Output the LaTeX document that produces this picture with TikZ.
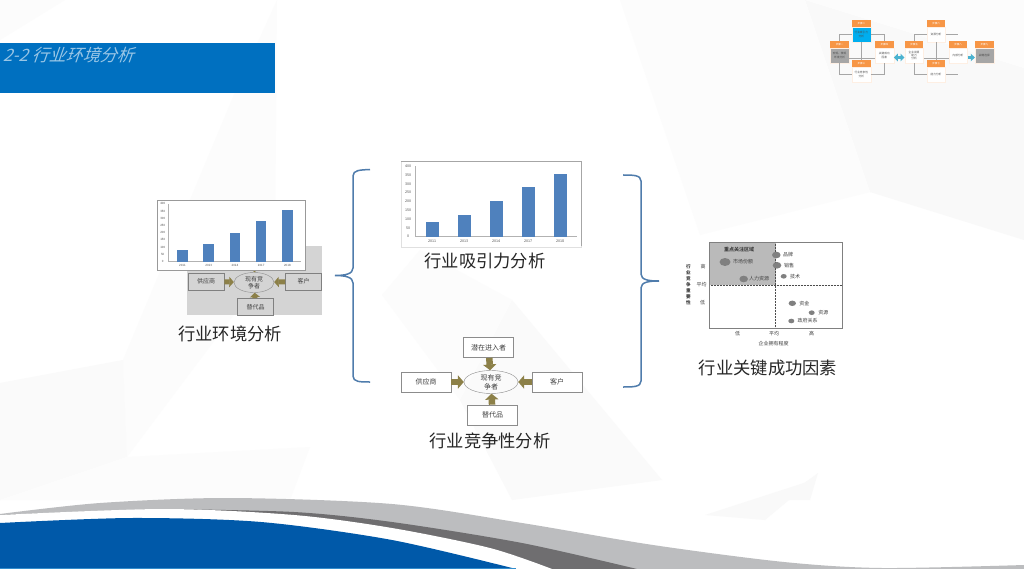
\documentclass[tikz,border=0pt]{standalone}
\usepackage{fontspec}
\setmainfont{Noto Sans CJK SC}
\usepackage{xcolor}
\usetikzlibrary{arrows.meta}
\usetikzlibrary{shapes.geometric}

\definecolor{titleblue}{HTML}{0070C0}
\definecolor{barblue}{HTML}{4F81BD}
\definecolor{bracecol}{HTML}{4F7CAC}
\definecolor{forceolive}{HTML}{8C8048}
\definecolor{waveblue}{HTML}{0059A9}
\definecolor{wavegrey}{HTML}{BCBDBF}
\definecolor{wavedark}{HTML}{6F6E70}
\definecolor{steporange}{HTML}{F79646}
\definecolor{stepcyan}{HTML}{00AEEF}
\definecolor{stepteal}{HTML}{4BB3D0}

\tikzset{
  facet/.style={fill=#1},
  caption/.style={font=\fontsize{17.3}{20}\selectfont,text=black!85,inner sep=0pt},
  bigbox/.style={draw=black!45,fill=white,line width=0.7pt,font=\fontsize{7}{8}\selectfont,text=black!75,inner sep=0pt,minimum width=50pt,minimum height=20pt},
  smallbox/.style={draw=black!50,fill=black!17,line width=0.7pt,font=\fontsize{6}{7}\selectfont,text=black!75,inner sep=0pt,minimum width=36pt,minimum height=17pt},
  rival/.style={ellipse,draw=black!45,align=center,inner sep=0pt,text=black!75},
  forcearrow/.style={draw=forceolive,line width=#1,-{Triangle[width=2*#1,length=0.9*#1]}},
  bracepath/.style={draw=bracecol,line width=1.5pt},
  keydot/.style={fill=black!50},
  keytext/.style={font=\fontsize{5}{6}\selectfont,text=black!75,inner sep=0pt},
  stephead/.style={fill=steporange,text=white,font=\fontsize{2.5}{3}\selectfont,inner sep=0pt,minimum width=18.7pt,minimum height=6.4pt},
  stepbody/.style={draw=steporange!15,line width=0.3pt,align=center,font=\fontsize{2.7}{3.4}\selectfont,text=black!70,inner sep=0pt,text width=17pt,minimum width=18.7pt,minimum height=15.6pt},
  stepline/.style={draw=black!35,line width=0.6pt},
  stepflow/.style={draw=stepteal,line width=3pt},
}

% one step of the small road map: head at the top, body below
\newcommand{\stepbox}[6]{
  \node[stephead] (#1h) at (#2,#3+3.2) {#5};
  \node[stepbody,fill=#4] (#1b) at (#2,#3+14.2) {#6};
}

% column chart, drawn in the units of the large one
\newcommand{\colchart}[5]{
  \begin{scope}[shift={(#2,#3)},scale=#4]
    \pgfmathsetmacro{\chartfont}{3.6*#4}
    \node[draw=#5,fill=white,line width=0.8pt,inner sep=0pt,minimum width=180*#4,minimum height=85*#4,anchor=north west] (#1) at (0,0) {};
    \foreach \v in {0,50,...,400}
      \node[font=\fontsize{\chartfont}{4}\selectfont,text=black!70,inner sep=0pt] (#1t\v) at (7,75-\v*0.1755) {\v};
    \draw[black!30,line width=0.4pt] (14,5) -- (14,75) -- (176,75);
    \foreach \x/\h/\yr in {31/80/2011,63/120/2013,95/200/2014,127/280/2017,159/355/2018} {
      \fill[barblue] (\x-6.5,75) rectangle (\x+6.5,75-\h*0.1755);
      \node[font=\fontsize{\chartfont}{4}\selectfont,text=black!70,inner sep=0pt] (#1y\yr) at (\x,80) {\yr};
    }
  \end{scope}
}

\begin{document}
\begin{tikzpicture}[x=1pt,y=-1pt]
  \useasboundingbox (0,0) rectangle (1024,569);
  \fill[white] (0,0) rectangle (1024,569);

  % faint facets of the slide background
  \fill[facet=black!2.5] (805,0) -- (1024,68) -- (1024,240) -- (870,192) -- cycle;
  \fill[facet=black!1] (805,0) -- (1024,0) -- (1024,68) -- cycle;
  \fill[facet=black!1] (620,0) -- (805,0) -- (870,192) -- (700,235) -- cycle;
  \fill[facet=black!1] (0,0) -- (65,0) -- (0,40) -- cycle;
  \fill[facet=black!1] (277,0) -- (233,97) -- (123,360) -- (127,457) -- (275,260) -- cycle;
  \fill[facet=black!2] (0,383) -- (123,360) -- (127,457) -- (0,500) -- cycle;
  \fill[facet=black!1] (127,457) -- (310,447) -- (290,500) -- (0,500) -- cycle;
  \fill[facet=black!2] (512,300) -- (662,480) -- (512,500) -- (460,400) -- cycle;
  \fill[facet=black!2.5] (781,500) -- (818,473) -- (810,500) -- cycle;
  \fill[facet=black!2.5] (705,515) -- (813,480) -- (765,520) -- cycle;
  \fill[facet=black!1] (382,295) -- (420,250) -- (512,300) -- (460,400) -- cycle;

  % waves at the foot of the slide
  \fill[wavegrey] plot[smooth] coordinates {(0,514) (100,503) (229,498) (392,504) (522,523) (653,545) (784,562) (882,568) (1024,565)} -- (1024,569) -- (0,569) -- cycle;
  \fill[wavedark] plot[smooth] coordinates {(163,509) (294,512) (392,522) (522,543) (637,569)} -- (0,569) -- (0,515) -- cycle;
  \fill[white] plot[smooth] coordinates {(0,515) (163,509) (294,515) (392,528) (490,548) (552,569)} -- (0,569) -- cycle;
  \fill[waveblue] plot[smooth] coordinates {(0,523) (131,518) (261,522) (392,540) (516,569)} -- (0,569) -- cycle;
  \fill[titleblue!80] (0,568) rectangle (516,569);

  % title
  \node[fill=titleblue,minimum width=275pt,minimum height=50pt,inner sep=0pt,anchor=north west] (titlebar) at (0,43) {};
  \node[font=\fontsize{17}{20}\selectfont,text=white!60!titleblue,xslant=0.35,anchor=west,inner sep=0pt] (titletext) at (5,55) {2-2 行业环境分析};

  % environment, small copy
  \fill[black!17] (187,246) rectangle (322,315);
  \node[smallbox] (sentrant) at (255,258) {};
  \node[smallbox] (ssupplier) at (206,281.5) {供应商};
  \node[smallbox] (scustomer) at (303.5,281.5) {客户};
  \node[smallbox] (ssubstitute) at (255.5,307) {替代品};
  \node[rival,minimum width=40pt,minimum height=20pt,font=\fontsize{6}{7}\selectfont] (srival) at (254,282.5) {现有竞\\争者};
  \draw[forcearrow=5pt] (ssupplier) -- (srival);
  \draw[forcearrow=5pt] (scustomer) -- (srival);
  \draw[forcearrow=5pt] (ssubstitute) -- (srival);
  \draw[forcearrow=5pt] (sentrant) -- (srival);
  \colchart{smallchart}{157}{200}{0.82}{black!40}
  \node[caption] (envtext) at (230,334) {行业环境分析};

  % brace on the left
  \draw[bracepath] (370,169.5) .. controls (360,170) and (353,170) .. (353,176) -- (353,268) .. controls (353,274) and (345,275.5) .. (335,275.5) .. controls (345,275.5) and (353,277) .. (353,283) -- (353,376) .. controls (353,382) and (360,382) .. (370,382);

  % attractiveness
  \colchart{bigchart}{401}{161.5}{1}{black!12}
  \draw[black!35,line width=0.7pt] (401,161.5) -- (581.5,161.5) -- (581.5,246);
  \node[caption] (attrtext) at (485,261) {行业吸引力分析};

  % competition
  \node[bigbox] (entrant) at (488.5,347.5) {潜在进入者};
  \node[bigbox] (supplier) at (426,382) {供应商};
  \node[bigbox] (customer) at (557,382) {客户};
  \node[bigbox] (substitute) at (492.5,415) {替代品};
  \node[rival,minimum width=54pt,minimum height=23pt,font=\fontsize{7}{9}\selectfont] (rivalry) at (491,382) {现有竞\\争者};
  \draw[forcearrow=6.5pt] (supplier) -- (rivalry);
  \draw[forcearrow=6.5pt] (customer) -- (rivalry);
  \draw[forcearrow=6.5pt] (entrant) -- (rivalry);
  \draw[forcearrow=6.5pt] (substitute) -- (rivalry);
  \node[caption] (comptext) at (490,441) {行业竞争性分析};

  % brace on the right
  \draw[bracepath] (623,175) .. controls (633,175) and (641,175) .. (641,181) -- (641,274) .. controls (641,280) and (649,281) .. (659,281) .. controls (649,281) and (641,282) .. (641,288) -- (641,381) .. controls (641,387) and (633,387) .. (623,387);

  % key factors
  \fill[white] (684,241) rectangle (847,350);
  \fill[black!27] (709,242) rectangle (775.7,285.3);
  \draw[black!70,densely dotted,line width=0.5pt] (709,285.3) -- (842,285.3);
  \draw[black!70,densely dotted,line width=0.5pt] (775.7,242) -- (775.7,328);
  \draw[black!50,line width=0.9pt] (709,242) rectangle (842,328);
  \node[keytext,font=\bfseries\fontsize{5}{6}\selectfont] (keyzone) at (739,249.7) {重点关注区域};
  \foreach \cx/\cy/\rx/\ry/\tx/\lbl [count=\k] in {725/262/5.5/4/743/市场份额,776.3/255/4.3/3.3/788/品牌,777/265.3/4.3/3.3/789/销售,783.7/276.3/3/2.3/795/技术,743.7/279/4.3/3.3/759/人力资源,792.3/303.3/3.7/2.7/804.3/资金,811.7/312.7/3/2.3/823.3/资源,791.3/321/3/2.3/807.7/政府关系} {
    \fill[keydot] (\cx,\cy) ellipse ({\rx} and {\ry});
    \node[keytext] (key\k) at (\tx,\cy) {\lbl};
  }
  \foreach \tx/\ty/\lbl [count=\k] in {737.7/333.7/低,774/333.7/平均,811.7/333.7/高,773.7/343.3/企业拥有程度,703/266.7/高,701.7/285/平均,702.7/303/低}
    \node[keytext] (axis\k) at (\tx,\ty) {\lbl};
  \node[keytext,align=center,font=\bfseries\fontsize{4.6}{6}\selectfont] (axisname) at (688.3,285) {行\\业\\竞\\争\\重\\要\\性};
  \node[caption] (keytext) at (768,368) {行业关键成功因素};

  % road map in the corner
  \stepbox{stepa}{839.6}{41.3}{black!35}{步骤一}{宏观、微观\\环境分析}
  \stepbox{stepb}{861.3}{20.3}{stepcyan}{步骤二}{行业吸引力\\分析}
  \stepbox{stepc}{884.3}{41.3}{white}{步骤四}{关键成功\\因素}
  \stepbox{stepd}{861.3}{60.3}{white}{步骤三}{行业竞争性\\分析}
  \stepbox{stepe}{914}{41.3}{white}{步骤五}{企业资源\\能力\\分析}
  \stepbox{stepf}{936}{20.3}{white}{步骤六}{资源分析}
  \stepbox{stepg}{936}{60.3}{white}{步骤七}{能力分析}
  \stepbox{steph}{958}{41.3}{white}{步骤八}{内部分析}
  \stepbox{stepi}{984.3}{41.3}{black!35}{步骤九}{战略选择}
  \coordinate (stepfend) at (958,34.5);
  \coordinate (stepgend) at (958,74.5);
  \draw[stepline] (stepah.north) |- (stepbb.west);
  \draw[stepline] (stepbb.east) -| (stepch.north);
  \draw[stepline] (stepab.south) |- (stepdb.west);
  \draw[stepline] (stepdb.east) -| (stepcb.south);
  \draw[stepline] (stepbb.south) -- (stepdh.north);
  \draw[stepline] ([yshift=-3pt]stepab.east) -- ([yshift=-3pt]stepcb.west);
  \draw[stepline] (stepeh.north) |- (stepfb.west);
  \draw[stepline] (stepeb.south) |- (stepgb.west);
  \draw[stepline] (stepfb.east) -- (stepfend);
  \draw[stepline] (stepgb.east) -- (stepgend);
  \draw[stepline] (stepfb.south) -- (stepgh.north);
  \draw[stepline] ([yshift=-3pt]stepeb.east) -- ([yshift=-3pt]stephb.west);
  \draw[stepflow,{Triangle[width=7.5pt,length=4pt]}-{Triangle[width=7.5pt,length=4pt]}] ([yshift=-2pt]stepcb.east) -- ([yshift=-2pt]stepeb.west);
  \draw[stepflow,-{Triangle[width=7.5pt,length=4pt]}] ([yshift=-2pt]stephb.east) -- ([yshift=-2pt]stepib.west);
\end{tikzpicture}
\end{document}
